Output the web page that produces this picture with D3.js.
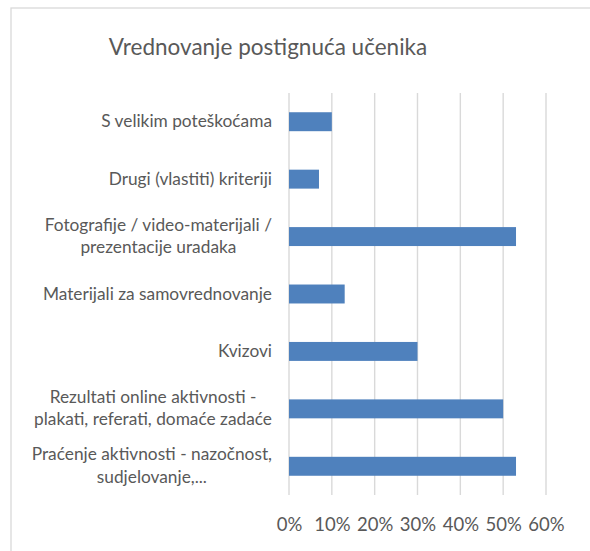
<!DOCTYPE html>
<html>
<head>
  <meta charset="utf-8">
  <title>Vrednovanje postignuća učenika</title>
  <style>
    body { margin: 0; background: #fff; }
    text { font-family: Lato, "Open Sans", sans-serif; fill: #595959; }
  </style>
</head>
<body>
  <script src="https://cdn.jsdelivr.net/npm/d3@7"></script>
  <script>
    // data
    var categories = [
      ["S velikim poteškoćama"],
      ["Drugi (vlastiti) kriteriji"],
      ["Fotografije / video-materijali /", "prezentacije uradaka"],
      ["Materijali za samovrednovanje"],
      ["Kvizovi"],
      ["Rezultati online aktivnosti -", "plakati, referati, domaće zadaće"],
      ["Praćenje aktivnosti - nazočnost,", "sudjelovanje,..."]
    ];
    var values = [0.10, 0.07, 0.53, 0.13, 0.30, 0.50, 0.53];
    var ticks = [0, 0.1, 0.2, 0.3, 0.4, 0.5, 0.6];
    var title = "Vrednovanje postignuća učenika";

    var width = 590, height = 551;
    var margin = {top: 93, right: 45, bottom: 56, left: 289};

    var svg = d3.select("body").append("svg")
      .attr("width", width)
      .attr("height", height);

    // chart border (only top and left visible)
    svg.append("rect")
      .attr("x", 11).attr("y", 8)
      .attr("width", 620).attr("height", 600)
      .attr("fill", "none")
      .attr("stroke", "#d9d9d9")
      .attr("stroke-width", 1.3);

    svg.append("text")
      .attr("x", 268).attr("y", 55)
      .attr("text-anchor", "middle")
      .style("font-size", "22.5px")
      .text(title);

    var xScale = d3.scaleLinear().domain([0, 0.6])
      .range([margin.left, width - margin.right + 1]);
    var yScale = d3.scaleBand().domain(d3.range(categories.length))
      .range([margin.top, height - margin.bottom])
      .paddingInner(0.67).paddingOuter(0.335);

    // gridlines
    svg.append("g")
      .selectAll("line")
      .data(ticks)
      .enter()
      .append("line")
      .attr("x1", function(d) { return xScale(d); })
      .attr("x2", function(d) { return xScale(d); })
      .attr("y1", margin.top)
      .attr("y2", height - margin.bottom)
      .attr("stroke", "#d9d9d9")
      .attr("stroke-width", 1.4);

    // bars
    svg.append("g")
      .selectAll("rect")
      .data(values)
      .enter()
      .append("rect")
      .attr("x", xScale(0))
      .attr("y", function(d, i) { return yScale(i); })
      .attr("width", function(d) { return xScale(d) - xScale(0); })
      .attr("height", yScale.bandwidth())
      .attr("fill", "#4f81bd");

    // x axis labels
    var xAxis = svg.append("g")
      .attr("transform", "translate(0," + (height - margin.bottom) + ")")
      .call(d3.axisBottom(xScale).tickValues(ticks).tickFormat(d3.format(".0%")).tickSize(0).tickPadding(23));
    xAxis.select(".domain").remove();
    xAxis.selectAll("text")
      .style("font-size", "18.5px")
      .attr("fill", "#595959");

    // category labels
    var labels = svg.append("g")
      .selectAll("text")
      .data(categories)
      .enter()
      .append("text")
      .attr("text-anchor", "end")
      .style("font-size", "17.3px")
      .attr("transform", function(d, i) {
        var cy = yScale(i) + yScale.bandwidth() / 2;
        return "translate(272," + (cy + 5.5 - (d.length - 1) * 11.5) + ")";
      });
    labels.selectAll("tspan")
      .data(function(d) { return d; })
      .enter()
      .append("tspan")
      .attr("x", 0)
      .attr("dy", function(d, j) { return j === 0 ? 0 : 22.5; })
      .text(function(d) { return d; });

    // wrapped labels: block right-aligned, each line centred in it
    labels.each(function(d) {
      if (d.length < 2) return;
      var spans = d3.select(this).selectAll("tspan").nodes();
      var maxW = d3.max(spans, function(s) { return s.getComputedTextLength(); });
      d3.select(this).attr("text-anchor", "middle");
      spans.forEach(function(s) { d3.select(s).attr("x", -maxW / 2); });
    });
  </script>
</body>
</html>
